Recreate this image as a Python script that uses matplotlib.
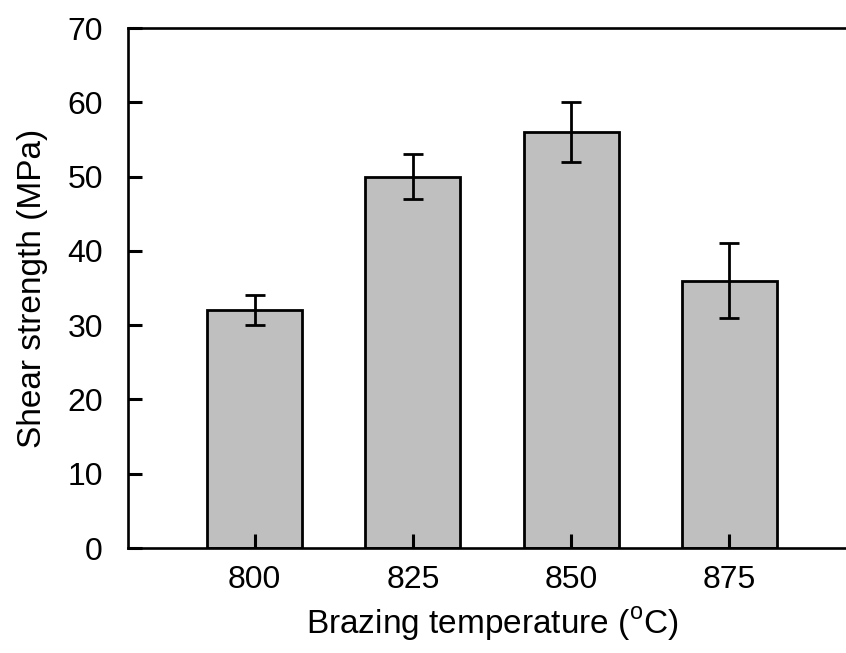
import numpy                as np
import matplotlib
matplotlib.use('Agg')
import matplotlib.pyplot    as plt


# brazing temperature (C) vs. joint shear strength
temperatures                        = ['800', '825', '850', '875']
strength                            = [32, 50, 56, 36]
strength_err                        = [2, 3, 4, 5]
y_ticks                             = [0, 10, 20, 30, 40, 50, 60, 70]


plt.rcParams['font.family']         = ['Liberation Sans', 'DejaVu Sans']
plt.rcParams['mathtext.fontset']    = 'custom'
plt.rcParams['mathtext.rm']         = 'Liberation Sans'
plt.rcParams['font.size']           = 23
plt.rcParams['axes.linewidth']      = 1.9


fig                                 = plt.figure(figsize=(8.46, 6.53), dpi=100)
ax                                  = fig.add_axes([128/846, 1-548/653, (856-128)/846, (548-28)/653])

x                                   = np.arange(len(temperatures))
ax.bar(x, strength, width=0.6, color='#bfbfbf', edgecolor='black', linewidth=2.0,
       yerr=strength_err, capsize=7.5,
       error_kw=dict(elinewidth=2.0, capthick=2.0, ecolor='black'), zorder=2)

ax.set_xlim(-0.8, 3.8)
ax.set_ylim(0, 70)
ax.set_xticks(x)
ax.set_xticklabels(temperatures)
ax.set_yticks(y_ticks)
ax.spines['right'].set_visible(False)

# inward ticks, drawn over the bars
ax.tick_params(axis='y', direction='in', width=2.2, length=10, pad=18, color='black')
ax.tick_params(axis='x', direction='in', width=2.2, length=10, pad=12, color='black')
ax.xaxis.set_zorder(5)
ax.yaxis.set_zorder(5)

ax.set_xlabel(r'Brazing temperature ($^{\rm o}$C)', fontsize=24, labelpad=8)
ax.set_ylabel('Shear strength (MPa)', fontsize=24, labelpad=14)

t = ax.yaxis.get_major_ticks()[3]
print(t.tick1line.get_visible(), t.tick1line.get_marker(), t.tick1line.get_markersize(),
      t.tick1line.get_markeredgewidth(), t.tick1line.get_color())

fig.savefig('out.png', dpi=100)
